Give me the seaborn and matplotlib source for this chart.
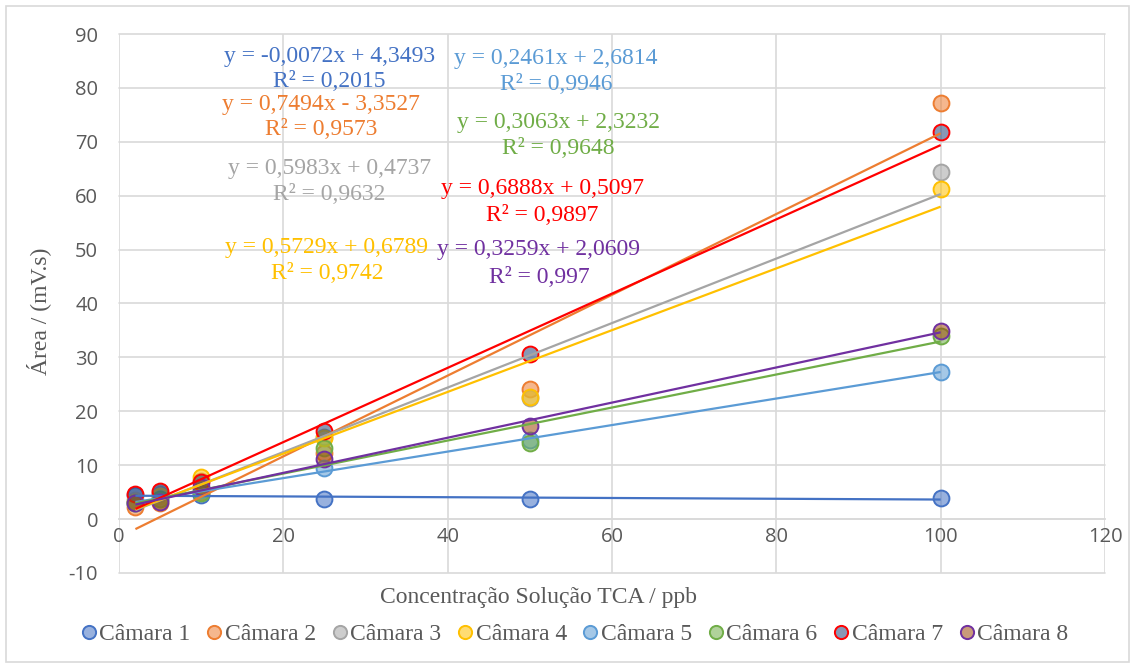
import numpy as np
import pandas as pd
import matplotlib
matplotlib.use("Agg")
import matplotlib.pyplot as plt
import seaborn as sns
from matplotlib.colors import to_rgba
from matplotlib.lines import Line2D
from matplotlib.patches import Rectangle

# ---------------- data ----------------
concentration = [2, 5, 10, 25, 50, 100]
series_names = ["Câmara 1", "Câmara 2", "Câmara 3", "Câmara 4",
                "Câmara 5", "Câmara 6", "Câmara 7", "Câmara 8"]
camara_1 = [4.5, 4.6, 4.4, 3.7, 3.7, 3.9]
camara_2 = [2.3, 2.9, 5.0, 12.3, 24.1, 77.2]
camara_3 = [3.5, 5.0, 7.0, 15.3, 22.5, 64.4]
camara_4 = [3.2, 4.3, 7.8, 15.0, 22.6, 61.2]
camara_5 = [2.9, 3.7, 5.4, 9.4, 14.7, 27.3]
camara_6 = [2.9, 3.8, 4.8, 13.2, 14.1, 34.0]
camara_7 = [4.6, 5.2, 6.9, 16.4, 30.6, 71.8]
camara_8 = [2.9, 3.2, 5.9, 11.1, 17.3, 34.9]
all_values = [camara_1, camara_2, camara_3, camara_4,
              camara_5, camara_6, camara_7, camara_8]

slopes = [-0.0072, 0.7494, 0.5983, 0.5729, 0.2461, 0.3063, 0.6888, 0.3259]
intercepts = [4.3493, -3.3527, 0.4737, 0.6789, 2.6814, 2.3232, 0.5097, 2.0609]
eq_labels = ["y = -0,0072x + 4,3493", "y = 0,7494x - 3,3527",
             "y = 0,5983x + 0,4737", "y = 0,5729x + 0,6789",
             "y = 0,2461x + 2,6814", "y = 0,3063x + 2,3232",
             "y = 0,6888x + 0,5097", "y = 0,3259x + 2,0609"]
r2_labels = ["R² = 0,2015", "R² = 0,9573", "R² = 0,9632", "R² = 0,9742",
             "R² = 0,9946", "R² = 0,9648", "R² = 0,9897", "R² = 0,997"]

# ---------------- styles ----------------
edge_colors = ["#4472C4", "#ED7D31", "#A5A5A5", "#FFC000",
               "#5B9BD5", "#70AD47", "#FF0000", "#7030A0"]
fill_colors = ["#4472C4", "#ED7D31", "#A5A5A5", "#FFC000",
               "#5B9BD5", "#70AD47", "#264478", "#9E480E"]
line_colors = edge_colors
# label positions (data coords): (x, y_eq, y_r2)
label_pos = [(25.6, 85.9, 81.1), (24.6, 77.0, 72.2), (25.6, 65.1, 60.3),
             (25.3, 50.3, 45.5), (53.2, 85.5, 80.7), (53.5, 73.5, 68.7),
             (51.5, 61.4, 56.4), (51.1, 50.1, 44.9)]

df = pd.DataFrame({
    "x": np.tile(concentration, len(series_names)),
    "y": np.concatenate(all_values),
    "serie": np.repeat(series_names, len(concentration)),
})

sns.set_style("white")
plt.rcParams["font.family"] = ["Liberation Serif", "DejaVu Serif"]
plt.rcParams["axes.unicode_minus"] = False

fig = plt.figure(figsize=(11.34, 6.67), dpi=100)
W, H = 1134, 667
L, R, T, B = 119, 1105, 34, 573
ax = fig.add_axes([L / W, 1 - B / H, (R - L) / W, (B - T) / H])

# markers
for i, name in enumerate(series_names):
    sub = df[df["serie"] == name]
    sns.scatterplot(data=sub, x="x", y="y", ax=ax, s=130,
                    color=to_rgba(fill_colors[i], 0.55),
                    edgecolor=edge_colors[i], linewidth=1.4,
                    zorder=3 + i * 0.01, legend=False)

# trendlines
xr = np.array([min(concentration), max(concentration)])
for i in range(len(series_names)):
    ax.plot(xr, slopes[i] * xr + intercepts[i], color=line_colors[i],
            lw=1.6, zorder=4 + i * 0.01, solid_capstyle="butt")

# labels
for i in range(len(series_names)):
    x, ye, yr = label_pos[i]
    ax.text(x, ye, eq_labels[i], color=edge_colors[i], fontsize=17,
            ha="center", va="center", zorder=6)
    ax.text(x, yr, r2_labels[i], color=edge_colors[i], fontsize=17,
            ha="center", va="center", zorder=6)

ax.set_xlim(0, 120)
ax.set_ylim(-10, 90)
ax.set_xticks(np.arange(0, 121, 20))
ax.set_yticks(np.arange(-10, 91, 10))
ax.grid(True, color="#D9D9D9", lw=1.2)
ax.set_axisbelow(True)
for ln in ax.get_xgridlines() + ax.get_ygridlines():
    ln.set_clip_on(False)
for s in ["top", "right", "left"]:
    ax.spines[s].set_visible(False)
ax.spines["bottom"].set_position(("data", 0))
ax.spines["bottom"].set_color("#D9D9D9")
ax.spines["bottom"].set_linewidth(1.2)
ax.tick_params(axis="both", length=0, labelcolor="#595959",
               labelsize=14.5, labelfontfamily="Open Sans")
ax.tick_params(axis="x", pad=6)
ax.tick_params(axis="y", pad=15)

ax.set_xlabel("")
ax.set_ylabel("Área / (mV.s)", fontsize=17, color="#595959")
ax.yaxis.set_label_coords(-0.069, 0.486)
fig.text(538 / W, 1 - 598 / H, "Concentração Solução TCA / ppb",
         fontsize=17, color="#595959", ha="center", va="center")

handles = [Line2D([0], [0], marker="o", linestyle="none", markersize=9.5,
                  markerfacecolor=to_rgba(fill_colors[i], 0.55),
                  markeredgecolor=edge_colors[i], markeredgewidth=1.4)
           for i in range(len(series_names))]
leg = fig.legend(handles, series_names, loc="center", ncol=8,
                 bbox_to_anchor=(575 / W, 1 - 634 / H), frameon=False,
                 fontsize=17, handlelength=0.6, handletextpad=0.15,
                 columnspacing=0.7, borderpad=0)
for t in leg.get_texts():
    t.set_color("#595959")

fig.patches.append(Rectangle((5.5 / W, 5.5 / H), (W - 11) / W, (H - 11) / H,
                             transform=fig.transFigure, fill=False,
                             edgecolor="#D9D9D9", lw=1.2))

fig.savefig("out.png", dpi=100)
